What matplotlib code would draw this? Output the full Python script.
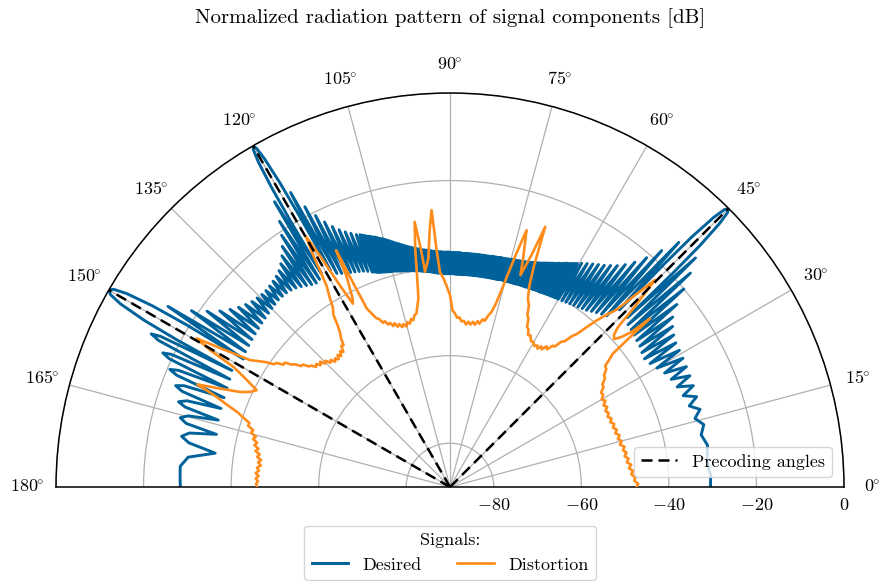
import matplotlib
matplotlib.use('Agg')
import matplotlib.pyplot as plt
import numpy as np

## fonts (latex-like look)
plt.rcParams['font.family'] = ['cmr10', 'DejaVu Serif']
plt.rcParams['mathtext.fontset'] = 'cm'
plt.rcParams['axes.formatter.use_mathtext'] = True

## data
theta_ticks = list(range(0, 181, 15))
r_ticks = [-80, -60, -40, -20, 0]
precoding_deg = [45, 120, 150]

# desired signal: lobe peaks / nulls (deg, dB)
desired_deg = [
	0.0, 2.5, 5.67, 9.21, 11.73, 13.81, 15.62, 17.25, 18.72, 20.10, 21.39, 22.61, 23.78, 24.88, 25.96,
	26.98, 27.97, 28.94, 29.89, 30.79, 31.68, 32.54, 33.38, 34.20, 35.01, 35.80, 36.57, 37.34, 38.09,
	38.82, 39.55, 40.26, 40.97, 41.66, 42.35, 43.02, 43.69,
	43.82, 44.02, 44.35, 44.67, 45.0, 45.32, 45.64, 45.96, 46.15,
	46.28, 46.91, 47.54, 48.16, 48.77, 49.38, 49.98, 50.57, 51.16, 51.75, 52.33, 52.91, 53.48, 54.05,
	54.61, 55.17, 55.73, 56.28, 56.83, 57.38, 57.92, 58.46, 59.00, 59.53,
	60.06, 60.33, 60.59, 60.86, 61.12, 61.39, 61.65, 61.91, 62.17, 62.43,
	62.69, 62.95, 63.21, 63.47, 63.73, 63.99, 64.24, 64.50, 64.75, 65.01,
	65.26, 65.52, 65.77, 66.02, 66.27, 66.52, 66.77, 67.02, 67.27, 67.52,
	67.77, 68.02, 68.26, 68.51, 68.76, 69.01, 69.25, 69.50, 69.74, 69.99,
	70.23, 70.48, 70.72, 70.97, 71.21, 71.46, 71.70, 71.94, 72.18, 72.42,
	72.66, 72.90, 73.14, 73.38, 73.62, 73.86, 74.10, 74.34, 74.58, 74.82,
	75.06, 75.30, 75.54, 75.78, 76.01, 76.25, 76.49, 76.73, 76.96, 77.20,
	77.44, 77.68, 77.91, 78.15, 78.38, 78.62, 78.85, 79.09, 79.32, 79.56,
	79.79, 80.03, 80.26, 80.50, 80.73, 80.97, 81.20, 81.43, 81.66, 81.90,
	82.13, 82.36, 82.59, 82.83, 83.06, 83.29, 83.52, 83.76, 83.99, 84.22,
	84.45, 84.69, 84.92, 85.15, 85.38, 85.62, 85.85, 86.08, 86.31, 86.54,
	86.77, 87.00, 87.23, 87.46, 87.69, 87.92, 88.15, 88.38, 88.61, 88.84,
	89.07, 89.30, 89.53, 89.76, 89.99, 90.22, 90.45, 90.68, 90.91, 91.14,
	91.37, 91.60, 91.83, 92.06, 92.29, 92.52, 92.75, 92.99, 93.22, 93.45,
	93.68, 93.92, 94.15, 94.38, 94.61, 94.85, 95.08, 95.31, 95.54, 95.78,
	96.01, 96.24, 96.47, 96.71, 96.94, 97.17, 97.40, 97.64, 97.87, 98.11,
	98.34, 98.58, 98.81, 99.05, 99.28, 99.52, 99.75, 99.99, 100.22, 100.46,
	100.69, 100.93, 101.16, 101.40, 101.64, 101.88, 102.11, 102.35, 102.59, 102.83,
	103.06, 103.30, 103.54, 103.78, 104.01, 104.25, 104.49, 104.73, 104.97, 105.21,
	105.45, 105.69, 105.93, 106.18, 106.42, 106.66, 106.90, 107.15, 107.39, 107.63,
	107.87, 108.12, 108.36, 108.61, 108.85, 109.11, 109.36, 109.62, 109.88,
	110.37, 110.86, 111.35, 111.84, 112.33, 112.83, 113.33, 113.83, 114.33, 114.83,
	115.34, 115.85, 116.36, 116.87, 117.38, 117.90, 118.42, 118.95,
	119.05, 119.21, 119.47, 119.74, 120.0, 120.26, 120.53, 120.79, 120.95,
	121.06, 121.60, 122.14, 122.69, 123.23, 123.78, 124.33, 124.89, 125.45, 126.02,
	126.58, 127.16, 127.74, 128.32, 128.90, 129.50, 130.09, 130.70, 131.30, 131.92,
	132.53, 133.16, 133.79, 134.35, 134.91, 135.57, 136.22, 136.89, 137.56, 138.25,
	138.93, 139.64, 140.35, 141.09, 141.82, 142.58, 143.33, 144.11, 144.89, 145.71,
	146.52, 147.37, 148.21,
	148.39, 148.66, 149.11, 149.55, 150.0, 150.47, 150.94, 151.41, 151.69,
	151.88, 152.50, 152.87, 153.30, 153.91, 154.55, 154.97, 155.45, 156.07, 156.75,
	157.23, 157.75, 158.43, 159.15, 159.71, 160.35, 161.08, 161.85, 162.56, 163.20,
	163.90, 164.80, 165.60, 166.45, 167.30, 168.30, 169.30, 170.40, 171.80, 173.50,
	175.60, 178.00, 180.00,
]
desired_db = [
	-30.5, -30.4, -31.0, -30.4, -31.4, -30.3, -31.9, -30.2, -32.3, -30.0, -32.8, -29.8, -33.3, -29.6, -33.8,
	-29.4, -34.5, -29.2, -35.5, -29.0, -36.3, -28.8, -36.8, -28.2, -36.5, -27.3, -36.0, -26.0, -35.8,
	-23.5, -35.5, -20.0, -35.2, -16.5, -35.0, -13.3, -34.0,
	-19.2, -10.5, -3.9, -0.9, 0.0, -0.9, -3.9, -10.5, -19.2,
	-34.0, -13.5, -37.0, -17.5, -37.5, -21.0, -38.0, -23.5, -38.5, -25.3, -39.0, -26.6, -39.3, -27.5,
	-39.6, -28.3, -39.8, -28.9, -40.0, -29.5, -40.2, -30.1, -40.4, -30.7,
	-40.5, -31.2, -40.5, -31.5, -40.6, -31.8, -40.6, -32.1, -40.7, -32.3,
	-40.7, -32.6, -40.8, -32.9, -40.8, -33.1, -40.9, -33.4, -40.9, -33.6,
	-41.0, -33.8, -41.0, -34.0, -41.0, -34.2, -41.0, -34.4, -41.1, -34.6,
	-41.1, -34.8, -41.1, -34.9, -41.1, -35.1, -41.2, -35.2, -41.2, -35.4,
	-41.2, -35.5, -41.2, -35.6, -41.2, -35.7, -41.2, -35.8, -41.3, -35.9,
	-41.3, -35.9, -41.3, -36.0, -41.3, -36.0, -41.3, -36.1, -41.3, -36.1,
	-41.3, -36.2, -41.3, -36.2, -41.3, -36.3, -41.3, -36.3, -41.4, -36.3,
	-41.4, -36.3, -41.4, -36.4, -41.4, -36.4, -41.4, -36.4, -41.4, -36.4,
	-41.4, -36.5, -41.4, -36.5, -41.4, -36.5, -41.4, -36.5, -41.4, -36.5,
	-41.4, -36.5, -41.4, -36.5, -41.4, -36.5, -41.4, -36.5, -41.4, -36.5,
	-41.4, -36.5, -41.4, -36.5, -41.4, -36.5, -41.4, -36.5, -41.4, -36.5,
	-41.4, -36.5, -41.4, -36.4, -41.4, -36.4, -41.4, -36.4, -41.4, -36.4,
	-41.3, -36.4, -41.3, -36.4, -41.3, -36.3, -41.3, -36.3, -41.3, -36.3,
	-41.3, -36.3, -41.2, -36.2, -41.2, -36.2, -41.1, -36.1, -41.1, -36.1,
	-41.0, -36.0, -40.9, -35.9, -40.8, -35.8, -40.7, -35.7, -40.6, -35.6,
	-40.5, -35.5, -40.5, -35.4, -40.4, -35.2, -40.3, -35.1, -40.2, -34.9,
	-40.1, -34.8, -40.0, -34.6, -40.0, -34.4, -39.9, -34.2, -39.8, -34.0,
	-39.8, -33.7, -39.7, -33.5, -39.6, -33.2, -39.5, -33.0, -39.5, -32.7,
	-39.4, -32.4, -39.3, -32.1, -39.2, -31.8, -39.1, -31.5, -39.0, -31.2,
	-39.0, -31.0, -38.9, -30.7, -38.8, -30.4, -38.7, -30.2, -38.6, -29.9,
	-38.5, -29.7, -38.4, -29.4, -38.2, -29.1, -38.0, -28.8, -37.8,
	-28.5, -37.3, -27.8, -36.9, -27.0, -36.6, -26.0, -36.3, -24.7, -36.0,
	-23.0, -35.7, -20.8, -35.3, -17.9, -34.8, -13.5, -33.5,
	-19.2, -10.5, -3.9, -0.9, 0.0, -0.9, -3.9, -10.5, -19.2,
	-33.0, -13.5, -34.0, -17.9, -34.3, -20.8, -34.0, -23.0, -33.5, -24.7,
	-33.0, -26.0, -32.5, -27.0, -32.2, -27.6, -32.0, -28.0, -32.0, -28.3,
	-32.0, -28.5, -32.2, -28.5, -32.4, -28.3, -32.6, -28.0, -32.8, -27.4,
	-33.0, -26.6, -33.2, -25.4, -33.4, -23.8, -33.6, -21.5, -33.8, -18.5,
	-34.0, -13.5, -34.5,
	-19.2, -10.5, -3.9, -0.9, 0.0, -0.9, -3.9, -10.5, -19.2,
	-33.5, -15.5, -13.3, -15.5, -34.0, -19.5, -17.6, -19.5, -34.3, -22.5,
	-20.6, -22.5, -34.5, -25.0, -23.2, -25.0, -34.7, -26.8, -25.0, -26.8,
	-34.9, -28.0, -26.4, -28.0, -35.3, -29.2, -27.6, -29.5, -35.8, -29.8,
	-28.2, -28.3, -28.4,
]

# distortion (deg, dB), jagged trace
distortion_deg = [
	0.0, 1.0, 2.0, 3.0, 4.0, 5.0, 6.0, 7.0, 8.0, 9.0,
	10.0, 11.0, 12.0, 13.0, 14.0, 15.0, 16.0, 17.0, 18.0, 19.0,
	20.0, 21.0, 22.0, 23.0, 24.0, 25.0, 26.0, 27.0, 28.0, 29.0,
	30.0, 31.0, 32.0, 33.0, 34.0, 35.0, 36.0, 37.0, 38.0, 38.6,
	39.3, 39.8, 40.1, 40.5, 41.2, 42.0, 42.8, 43.6, 44.3, 45.3,
	46.0, 46.8, 47.8, 48.7, 49.5, 50.3, 51.0, 51.8, 52.6, 53.3,
	54.0, 54.8, 55.5, 56.3, 57.0, 57.7, 58.3, 59.2, 60.0, 61.0,
	62.0, 62.8, 63.5, 64.3, 65.0, 65.8, 66.5, 67.5, 68.5, 69.2,
	69.9, 70.6, 71.6, 72.3, 73.4, 74.2, 74.9, 75.5, 76.0, 76.7,
	77.4, 78.2, 79.0, 79.8, 80.5, 81.3, 82.0, 82.8, 83.6, 84.4,
	85.2, 86.0, 86.8, 87.6, 88.4, 89.2, 90.0, 91.0, 91.8, 92.7,
	93.3, 93.8, 94.5, 95.4, 96.6, 97.0, 97.6, 98.3, 98.9, 99.5,
	100.3, 101.0, 101.7, 102.4, 103.1, 103.8, 104.5, 105.2, 105.9, 106.6,
	107.3, 108.0, 108.7, 109.4, 110.1, 110.8, 111.5, 112.2, 112.9, 113.6,
	114.3, 115.0, 115.4, 115.7, 116.1, 116.6, 117.3, 117.9, 118.6, 119.3,
	119.9, 120.6, 121.5, 122.5, 123.1, 124.1, 124.8, 125.5, 126.2, 126.9,
	127.6, 128.3, 129.0, 129.7, 130.4, 131.1, 131.8, 132.5, 133.2, 133.9,
	134.6, 135.3, 136.0, 136.7, 137.4, 138.1, 138.8, 139.5, 140.2, 140.9,
	141.6, 142.3, 143.0, 143.7, 144.4, 145.1, 145.8, 146.5, 147.6, 148.8,
	149.6, 150.3, 151.0, 152.0, 153.4, 154.5, 155.6, 156.8, 157.9, 158.8,
	159.7, 160.6, 161.5, 162.3, 163.1, 163.9, 164.7, 165.5, 166.3, 167.1,
	167.9, 168.7, 169.5, 170.3, 171.1, 171.9, 172.7, 173.5, 174.3, 175.1,
	175.9, 176.7, 177.5, 178.3, 179.1, 180.0,
]
distortion_db = [
	-47.4, -47.0, -47.9, -47.6, -48.5, -48.0, -48.9, -48.3, -49.2, -48.7,
	-49.5, -48.9, -49.6, -49.1, -50.0, -49.4, -50.1, -49.5, -50.3, -49.7,
	-50.4, -49.8, -50.5, -49.9, -50.6, -50.0, -50.5, -49.7, -50.3, -49.4,
	-50.0, -49.2, -49.3, -48.2, -48.0, -46.8, -46.5, -45.3, -45.0, -43.5,
	-42.0, -36.0, -30.3, -35.5, -38.0, -39.5, -39.0, -37.0, -31.0, -23.5,
	-29.0, -34.5, -37.0, -39.5, -42.0, -44.5, -45.6, -47.6, -48.3, -50.0,
	-50.1, -51.5, -51.0, -52.2, -51.7, -52.6, -52.0, -52.5, -51.8, -51.9,
	-50.8, -51.0, -49.8, -49.4, -47.6, -46.9, -44.8, -43.5, -40.5, -36.0,
	-26.7, -33.5, -39.0, -35.0, -28.8, -35.0, -40.5, -44.5, -47.0, -49.0,
	-49.8, -51.2, -51.0, -52.1, -51.6, -52.5, -51.9, -52.6, -52.0, -52.7,
	-51.9, -52.1, -51.2, -51.3, -50.3, -49.6, -46.2, -44.0, -42.3, -40.8,
	-35.0, -26.6, -31.0, -37.5, -40.5, -35.0, -28.9, -35.0, -41.5, -46.3,
	-48.2, -49.7, -49.9, -51.0, -50.6, -51.6, -51.1, -52.0, -51.3, -51.9,
	-51.0, -51.5, -50.5, -51.0, -50.1, -50.3, -49.3, -49.5, -48.3, -47.9,
	-46.5, -45.0, -38.0, -30.0, -36.0, -38.5, -41.5, -42.6, -38.0, -30.0,
	-24.0, -29.0, -36.0, -39.0, -41.0, -42.5, -45.0, -46.8, -47.8, -49.5,
	-49.3, -50.7, -50.1, -51.1, -50.4, -51.3, -50.6, -51.2, -50.2, -50.6,
	-49.5, -49.9, -48.8, -49.4, -48.5, -48.9, -47.9, -47.6, -46.3, -46.2,
	-44.9, -44.3, -42.8, -42.8, -41.3, -41.0, -39.3, -38.0, -35.9, -29.0,
	-22.9, -27.0, -33.5, -36.9, -40.6, -39.5, -37.5, -33.0, -27.7, -32.5,
	-35.5, -38.5, -40.3, -41.9, -41.8, -43.2, -42.9, -44.2, -43.7, -44.8,
	-44.3, -45.4, -44.8, -45.9, -45.4, -46.4, -45.8, -46.5, -45.7, -46.2,
	-45.5, -46.2, -45.6, -46.1, -45.7, -45.9,
]

blue = '#00629b'
orange = '#ff8c1a'

fig = plt.figure(figsize=(8.81, 5.81), dpi=100)
# polar axes stay square: half-disc of radius 394 px centred at (450, 487)
ax = fig.add_axes([56 / 881, -103 / 581, 788 / 881, 788 / 581], projection='polar')
ax.set_thetamin(0)
ax.set_thetamax(180)
ax.set_rlim(-90, 0)

h_des, = ax.plot(np.deg2rad(desired_deg), desired_db, color=blue, lw=2.1, zorder=2,
	solid_joinstyle='round', label='Desired')
h_dist, = ax.plot(np.deg2rad(distortion_deg), distortion_db, color=orange, lw=1.9, zorder=3,
	solid_joinstyle='round', label='Distortion')

pre_lines = []
for a in precoding_deg:
	l, = ax.plot([np.deg2rad(a), np.deg2rad(a)], [-90, 0], color='black', lw=1.8,
		dashes=(4.4, 2.4), zorder=4, label='Precoding angles')
	pre_lines.append(l)

## grids and ticks
ax.set_thetagrids(theta_ticks, labels=[r'$%d\hspace{-0.07}^{\circ}$' % t for t in theta_ticks])
ax.set_rgrids(r_ticks)
ax.grid(True, color='#b0b0b0', lw=0.9)
ax.tick_params(axis='x', labelsize=13, pad=10)
ax.tick_params(axis='y', labelsize=13)
for s in ax.spines.values():
	s.set_color('black')
	s.set_linewidth(1.1)

## labels
fig.text(450 / 881, 1 - 18 / 581, 'Normalized radiation pattern of signal components [dB]',
	ha='center', va='center', fontsize=15)

ax.legend(handles=[pre_lines[0]], loc='lower right', bbox_to_anchor=(832 / 881, 104 / 581),
	bbox_transform=fig.transFigure, borderaxespad=0, fontsize=13)
fig.legend(handles=[h_des, h_dist], loc='lower center', bbox_to_anchor=(450 / 881, 1 / 581),
	ncol=2, title='Signals:', fontsize=13, title_fontsize=13, borderaxespad=0)

fig.savefig('out.png', dpi=100)
